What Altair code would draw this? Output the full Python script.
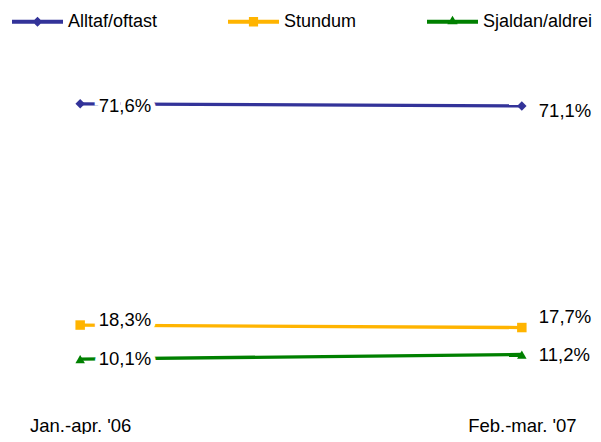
import altair as alt
import pandas as pd

periods = ["Jan.-apr. '06", "Feb.-mar. '07"]
series = ["Alltaf/oftast", "Stundum", "Sjaldan/aldrei"]
alltaf = [71.6, 71.1]
stundum = [18.3, 17.7]
sjaldan = [10.1, 11.2]

colors = ["#333399", "#FFB400", "#008000"]
marker_shapes = ["diamond", "square", "triangle-up"]
legend_paths = [
    "M-1,-0.078L1,-0.078L1,0.078L-1,0.078Z M0,-0.2L0.2,0L0,0.2L-0.2,0Z",
    "M-1,-0.078L1,-0.078L1,0.078L-1,0.078Z M-0.18,-0.19L0.18,-0.19L0.18,0.19L-0.18,0.19Z",
    "M-1,-0.078L1,-0.078L1,0.078L-1,0.078Z M0,-0.235L0.2,0.1L-0.2,0.1Z",
]

rows = []
for s, vals in zip(series, [alltaf, stundum, sjaldan]):
    for p, v in zip(periods, vals):
        rows.append({"series": s, "period": p, "value": v})
df = pd.DataFrame(rows)

FONT = "Liberation Sans"
FS = 18.5

base = alt.Chart(df).transform_calculate(
    label="replace(format(datum.value, '.1f'), '.', ',') + '%'",
    shp="datum.series",
).encode(
    x=alt.X("period:N", sort=periods, title=None,
            scale=alt.Scale(type="point", padding=0.1),
            axis=alt.Axis(domain=False, ticks=False, tickSize=0, labelAngle=0,
                          labelFontSize=FS, labelFont=FONT, labelColor="black",
                          labelPadding=15, grid=False)),
    y=alt.Y("value:Q", scale=alt.Scale(domain=[0, 80], nice=False), axis=None),
)

color_nolegend = alt.Color("series:N", scale=alt.Scale(domain=series, range=colors), legend=None)

lines = base.mark_line(strokeWidth=3.3).encode(color=color_nolegend)

points = base.mark_point(filled=True, size=90, opacity=1).encode(
    color=color_nolegend,
    shape=alt.Shape("shp:N", scale=alt.Scale(domain=series, range=marker_shapes), legend=None),
)

leg_kwargs = dict(orient="none", direction="horizontal", legendX=-24, legendY=-73,
                  symbolSize=2601, labelFontSize=18, labelFont=FONT, labelColor="black",
                  labelOffset=5, columnPadding=70, padding=0, title=None,
                  symbolStrokeWidth=0, symbolOpacity=1)

legend_layer = base.mark_point(filled=True, opacity=0).encode(
    color=alt.Color("series:N", scale=alt.Scale(domain=series, range=colors),
                    legend=alt.Legend(**leg_kwargs)),
    shape=alt.Shape("series:N", scale=alt.Scale(domain=series, range=legend_paths),
                    legend=alt.Legend(**leg_kwargs)),
)

left_dy = {"Alltaf/oftast": 2, "Stundum": -5.5, "Sjaldan/aldrei": -0.5}
right_dy = {"Alltaf/oftast": 5.5, "Stundum": -11, "Sjaldan/aldrei": 0.5}

text_layers = []
for s in series:
    left = base.transform_filter(
        (alt.datum.period == periods[0]) & (alt.datum.series == s))
    text_layers.append(left.mark_text(align="left", baseline="middle", dx=18.5, dy=left_dy[s],
                                      fontSize=FS, font=FONT, color="white",
                                      stroke="white", strokeWidth=10).encode(text="label:N"))
    text_layers.append(left.mark_text(align="left", baseline="middle", dx=18.5, dy=left_dy[s],
                                      fontSize=FS, font=FONT, color="black").encode(text="label:N"))
    right = base.transform_filter(
        (alt.datum.period == periods[1]) & (alt.datum.series == s))
    text_layers.append(right.mark_text(align="left", baseline="middle", dx=17, dy=right_dy[s],
                                       fontSize=FS, font=FONT, color="black").encode(text="label:N"))

chart = alt.layer(lines, *text_layers, points, legend_layer).resolve_scale(
    shape="independent", color="independent"
).properties(
    width=530, height=332,
    padding={"left": 28, "top": 61, "right": 27, "bottom": 33},
    autosize=alt.AutoSizeParams(type="none"),
).configure_view(stroke=None)

chart.save("out.html", embed_options={"renderer": "svg", "actions": False})
